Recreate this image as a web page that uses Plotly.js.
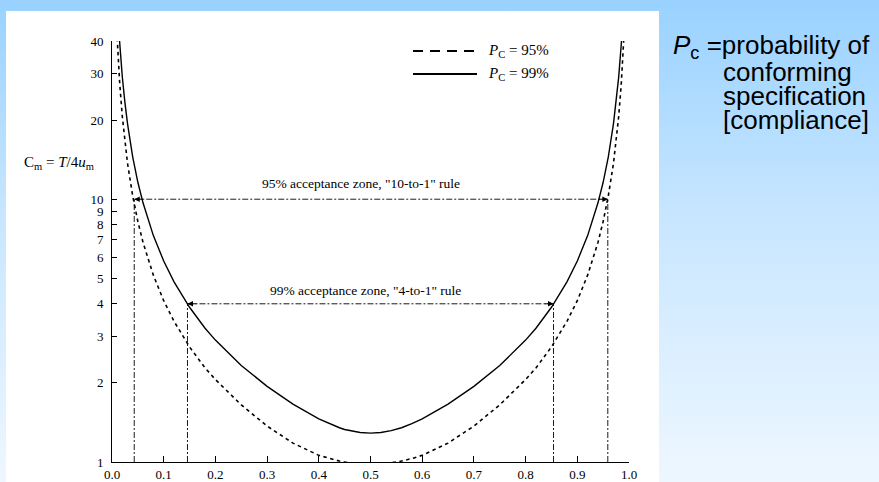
<!DOCTYPE html>
<html>
<head>
<meta charset="utf-8">
<script src="https://cdn.plot.ly/plotly-3.0.1.min.js"></script>
<style>
html,body{margin:0;padding:0;}
body{width:879px;height:482px;overflow:hidden;background:linear-gradient(to bottom,#99d2ff 0%,#c8e6ff 45%,#eef7ff 100%);}
#chart{width:879px;height:482px;}
</style>
</head>
<body>
<div id="chart"></div>
<script>
// Position within tolerance zone (x) and Cm = T/4u_m for each conformance probability
const x99 = [0.014,0.015,0.02,0.025,0.03,0.04,0.05,0.06,0.07,0.08,0.10,0.12,0.15,0.18,0.20,0.25,0.30,0.35,0.40,0.42,0.44,0.45,0.46,0.48,0.50,
             0.52,0.54,0.55,0.56,0.58,0.60,0.65,0.70,0.75,0.80,0.82,0.85,0.88,0.90,0.92,0.93,0.94,0.95,0.96,0.97,0.975,0.98,0.985,0.986];
const cm99 = [41.5,38.8,29.1,23.3,19.4,14.5,11.6,9.69,8.31,7.27,5.82,4.85,3.88,3.23,2.91,2.33,1.94,1.66,1.46,1.40,1.35,1.33,1.316,1.295,1.288,
              1.295,1.316,1.33,1.35,1.40,1.46,1.66,1.94,2.33,2.91,3.23,3.88,4.85,5.82,7.27,8.31,9.69,11.6,14.5,19.4,23.3,29.1,38.8,41.5];
const x95 = [0.010,0.0105,0.015,0.02,0.025,0.03,0.04,0.05,0.06,0.07,0.08,0.10,0.12,0.15,0.18,0.20,0.25,0.30,0.35,0.40,0.42,0.44,0.45,0.46,0.48,0.50,
             0.52,0.54,0.55,0.56,0.58,0.60,0.65,0.70,0.75,0.80,0.82,0.85,0.88,0.90,0.92,0.93,0.94,0.95,0.96,0.97,0.975,0.98,0.985,0.9895,0.990];
const cm95 = [41.1,39.2,27.4,20.6,16.45,13.7,10.3,8.23,6.85,5.88,5.14,4.11,3.43,2.74,2.28,2.06,1.65,1.37,1.18,1.06,1.031,1.008,1.00,0.993,0.983,0.98,
              0.983,0.993,1.00,1.008,1.031,1.06,1.18,1.37,1.65,2.06,2.28,2.74,3.43,4.11,5.14,5.88,6.85,8.23,10.3,13.7,16.45,20.6,27.4,39.2,41.1];

// Acceptance zones: edges in x and the Cm level
const zone95X = [0.043, 0.959];
const zone95Cm = 10;
const zone99X = [0.146, 0.854];
const zone99Cm = 4;

const xTickVals = [0,0.1,0.2,0.3,0.4,0.5,0.6,0.7,0.8,0.9,1.0];
const xTickText = ["0.0","0.1","0.2","0.3","0.4","0.5","0.6","0.7","0.8","0.9","1.0"];
const yTickVals = [1,2,3,4,5,6,7,8,9,10,20,30,40];
const yTickText = ["1","2","3","4","5","6","7","8","9","10","20","30","40"];

const legendLabels = ["<i>P</i><sub>C</sub> = 95%", "<i>P</i><sub>C</sub> = 99%"];
const zoneLabels = ["95% acceptance zone, \"10-to-1\" rule", "99% acceptance zone, \"4-to-1\" rule"];
const sideText = ["<i>P</i><sub>c</sub>&nbsp;=probability of", "conforming", "specification", "[compliance]"];

const serif = "Liberation Serif, Times New Roman, serif";
const sans = "Liberation Sans, Arial, sans-serif";
const ddash = "6px,2px,2px,2px";

const traces = [
  {x:x95, y:cm95, mode:'lines', line:{color:'#000', width:1.6, dash:'3.5px,3.5px'}, hoverinfo:'skip'},
  {x:x99, y:cm99, mode:'lines', line:{color:'#000', width:1.4}, hoverinfo:'skip'},
  {x:zone95X, y:[zone95Cm,zone95Cm], mode:'lines', line:{color:'#000', width:0.9, dash:ddash}, hoverinfo:'skip'},
  {x:[zone95X[0],zone95X[0]], y:[1,zone95Cm], mode:'lines', line:{color:'#000', width:0.9, dash:ddash}, hoverinfo:'skip'},
  {x:[zone95X[1],zone95X[1]], y:[1,zone95Cm], mode:'lines', line:{color:'#000', width:0.9, dash:ddash}, hoverinfo:'skip'},
  {x:zone99X, y:[zone99Cm,zone99Cm], mode:'lines', line:{color:'#000', width:0.9, dash:ddash}, hoverinfo:'skip'},
  {x:[zone99X[0],zone99X[0]], y:[1,zone99Cm], mode:'lines', line:{color:'#000', width:0.9, dash:ddash}, hoverinfo:'skip'},
  {x:[zone99X[1],zone99X[1]], y:[1,zone99Cm], mode:'lines', line:{color:'#000', width:0.9, dash:ddash}, hoverinfo:'skip'}
];

function arrow(xTip, cm, dir){
  return {x:xTip, y:Math.log10(cm), xref:'x', yref:'y', ax:xTip + dir*0.02, ay:Math.log10(cm),
          axref:'x', ayref:'y', text:'', showarrow:true, arrowhead:2, arrowsize:1.1, arrowwidth:1,
          arrowcolor:'#000', standoff:0, startstandoff:0};
}

const L = 112, R = 629, T = 41, B = 462;
const px = v => (v - L) / (R - L);
const py = v => (B - v) / (B - T);

function label(xp, yp, text, family, size, anchor){
  return {xref:'paper', yref:'paper', x:px(xp), y:py(yp), text:text, showarrow:false,
          xanchor:anchor || 'left', yanchor:'middle', font:{family:family, size:size, color:'#000'}};
}

const annotations = [
  arrow(zone95X[0], zone95Cm, 1), arrow(zone95X[1], zone95Cm, -1),
  arrow(zone99X[0], zone99Cm, 1), arrow(zone99X[1], zone99Cm, -1),
  label(361, 183, zoneLabels[0], serif, 13.5, 'center'),
  label(365, 290, zoneLabels[1], serif, 13.5, 'center'),
  label(22, 163, 'C<sub>m</sub> = <i>T</i>/4<i>u</i><sub>m</sub>', serif, 15),
  label(486, 51, legendLabels[0], serif, 15),
  label(486, 74, legendLabels[1], serif, 15),
  label(671, 46, sideText[0], sans, 26),
  label(721, 72, sideText[1], sans, 26),
  label(721, 96, sideText[2], sans, 26),
  label(721, 120, sideText[3], sans, 26)
];

const shapes = [
  {type:'rect', xref:'paper', yref:'paper', x0:px(6), x1:px(659), y0:py(11), y1:py(500),
   fillcolor:'#ffffff', line:{width:0}, layer:'below'},
  {type:'line', xref:'paper', yref:'paper', x0:px(413), x1:px(477), y0:py(51), y1:py(51),
   line:{color:'#000', width:2, dash:'10px,7px'}},
  {type:'line', xref:'paper', yref:'paper', x0:px(413), x1:px(477), y0:py(74), y1:py(74),
   line:{color:'#000', width:2}}
];

const layout = {
  width:879, height:482,
  margin:{l:L, r:879-R, t:T, b:482-B, pad:0},
  paper_bgcolor:'rgba(0,0,0,0)', plot_bgcolor:'rgba(0,0,0,0)',
  showlegend:false,
  font:{family:serif, size:13, color:'#000'},
  xaxis:{range:[0,1], tickvals:xTickVals, ticktext:xTickText, ticks:'inside', ticklen:6, tickwidth:1,
         tickcolor:'#000', showline:true, linecolor:'#000', linewidth:1, showgrid:false, zeroline:false,
         tickfont:{family:serif, size:13, color:'#000'}, fixedrange:true},
  yaxis:{type:'log', range:[0, Math.log10(40)], tickvals:yTickVals, ticktext:yTickText, ticks:'inside', ticklen:5,
         tickwidth:1, tickcolor:'#000', showline:true, linecolor:'#000', linewidth:1, showgrid:false, zeroline:false,
         tickfont:{family:serif, size:13, color:'#000'}, ticklabelstandoff:5, fixedrange:true},
  annotations:annotations,
  shapes:shapes
};

Plotly.newPlot('chart', traces, layout, {staticPlot:true, displayModeBar:false});
</script>
</body>
</html>
